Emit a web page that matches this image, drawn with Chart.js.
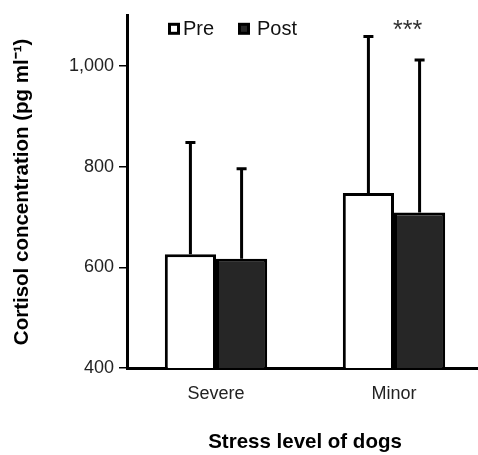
<!DOCTYPE html>
<html>
<head>
<meta charset="utf-8">
<script src="https://cdn.jsdelivr.net/npm/chart.js@4.4.1/dist/chart.umd.min.js"></script>
<style>
  body { margin: 0; background: #fff; }
  #wrap { width: 478px; height: 455px; overflow: hidden; }
  canvas { display: block; }
</style>
</head>
<body>
<div id="wrap"><canvas id="myChart" width="483" height="455"></canvas></div>
<script>
const categories = ['Severe', 'Minor'];
const preValues = [626, 748];
const postValues = [617, 709];
// upward error (SD)
const preErr = [224, 313];
const postErr = [181, 305];
const yTicks = [400, 600, 800, 1000];

const FONT = "'Liberation Sans', Arial, Helvetica, sans-serif";

// error bars, only the upper half is drawn
const errorBars = {
  id: 'errorBars',
  afterDatasetsDraw(chart) {
    const ctx = chart.ctx;
    const y = chart.scales.y;
    const errs = [preErr, postErr];
    ctx.save();
    ctx.strokeStyle = '#000';
    ctx.lineWidth = 3;
    chart.data.datasets.forEach((ds, i) => {
      chart.getDatasetMeta(i).data.forEach((bar, j) => {
        const top = y.getPixelForValue(ds.data[j] + errs[i][j]);
        ctx.beginPath();
        ctx.moveTo(bar.x, bar.y);
        ctx.lineTo(bar.x, top);
        ctx.moveTo(bar.x - 5, top + 1);
        ctx.lineTo(bar.x + 5, top + 1);
        ctx.stroke();
      });
    });
    ctx.restore();
  }
};

// legend inside the plot + significance stars
const extras = {
  id: 'extras',
  afterDraw(chart) {
    const ctx = chart.ctx;
    const area = chart.chartArea;
    ctx.save();
    const ly = area.top + 7;
    const items = [
      { text: 'Pre', fill: '#fff', x: area.left + 41, gap: 15 },
      { text: 'Post', fill: '#262626', x: area.left + 111, gap: 19 }
    ];
    ctx.font = '20px ' + FONT;
    ctx.textBaseline = 'middle';
    items.forEach(it => {
      ctx.fillStyle = it.fill;
      ctx.strokeStyle = '#000';
      ctx.lineWidth = 3;
      ctx.fillRect(it.x + 1.5, ly + 1.5, 9, 9);
      ctx.strokeRect(it.x + 1.5, ly + 1.5, 9, 9);
      ctx.fillStyle = '#111';
      ctx.fillText(it.text, it.x + it.gap, ly + 7);
    });

    const post = chart.getDatasetMeta(1).data[1];
    ctx.font = '25px ' + FONT;
    ctx.textAlign = 'center';
    ctx.textBaseline = 'alphabetic';
    ctx.fillStyle = '#333';
    ctx.fillText('***', post.x - 12, area.top + 22);
    ctx.restore();
  }
};

const ctx = document.getElementById('myChart').getContext('2d');
const data = {
  labels: categories,
  datasets: [
    {
      label: 'Pre',
      data: preValues,
      backgroundColor: '#fff',
      borderColor: '#000',
      borderWidth: 3
    },
    {
      label: 'Post',
      data: postValues,
      backgroundColor: '#262626',
      borderColor: '#000',
      borderWidth: 3
    }
  ]
};

const config = {
  type: 'bar',
  data: data,
  options: {
    responsive: false,
    animation: false,
    devicePixelRatio: 1,
    layout: { padding: { top: 13, right: 0, left: 0, bottom: 0 } },
    datasets: { bar: { barPercentage: 1, categoryPercentage: 0.575 } },
    plugins: {
      legend: { display: false },
      tooltip: { enabled: false }
    },
    scales: {
      x: {
        grid: { display: false, drawTicks: false },
        border: { display: true, color: '#000', width: 3 },
        ticks: {
          color: '#222',
          padding: 15,
          font: { family: FONT, size: 18 }
        },
        title: {
          display: true,
          text: 'Stress level of dogs',
          color: '#000',
          font: { family: FONT, size: 20.5, weight: 'bold' },
          padding: { top: 0, bottom: 0 }
        },
        afterFit(scale) { scale.height = 87; }
      },
      y: {
        min: 400,
        max: 1100,
        grid: {
          drawOnChartArea: false,
          drawTicks: true,
          tickLength: 8,
          color: '#000',
          lineWidth: 1.5
        },
        border: { display: true, color: '#000', width: 3 },
        afterBuildTicks(scale) {
          scale.ticks = yTicks.map(v => ({ value: v }));
        },
        ticks: {
          color: '#222',
          padding: 5,
          font: { family: FONT, size: 18 },
          callback: v => v.toLocaleString('en-US')
        },
        title: {
          display: true,
          text: 'Cortisol concentration (pg ml\u207B\u00B9)',
          color: '#000',
          font: { family: FONT, size: 20.5, weight: 'bold' },
          padding: { top: 10, bottom: 0 }
        },
        afterFit(scale) { scale.width = 127; }
      }
    }
  },
  plugins: [errorBars, extras]
};

const myChart = new Chart(ctx, config);
</script>
</body>
</html>
